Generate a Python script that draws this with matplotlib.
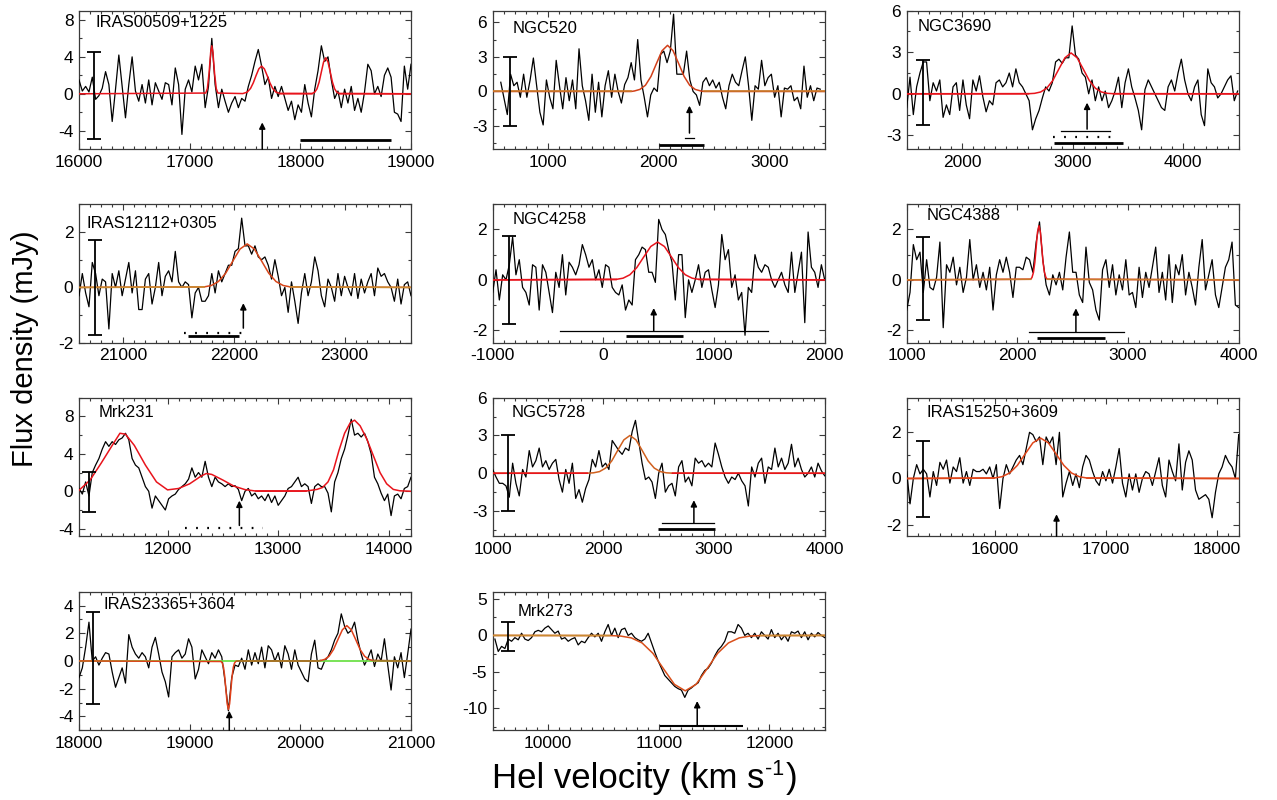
import numpy as np
import matplotlib
matplotlib.use('Agg')
import matplotlib.pyplot as plt
from matplotlib.ticker import MultipleLocator, AutoMinorLocator

plt.rcParams['font.family'] = ['Liberation Sans', 'DejaVu Sans']
plt.rcParams['axes.unicode_minus'] = False

# ---------------- data ----------------
names = ['IRAS00509+1225', 'NGC520', 'NGC3690', 'IRAS12112+0305', 'NGC4258',
         'NGC4388', 'Mrk231', 'NGC5728', 'IRAS15250+3609', 'IRAS23365+3604', 'Mrk273']

xlims = [(16000, 19000), (500, 3500), (1500, 4500), (20600, 23600), (-1000, 2000),
         (1000, 4000), (11200, 14200), (1000, 4000), (15200, 18200), (18000, 21000), (9500, 12500)]
ylims = [(-6, 9), (-5, 7), (-4, 6), (-2, 3), (-2.5, 3), (-2.5, 3), (-4.8, 10), (-5, 6),
         (-2.5, 3.5), (-5, 5), (-13, 6)]
ysteps = [4, 3, 3, 2, 2, 2, 4, 3, 2, 2, 5]

# velocity coverage of each spectrum (first, last channel)
vel_ranges = [(16000, 19000), (573, 3460), (1500, 4490), (20600, 23600), (-1000, 2000),
              (1000, 4000), (11200, 14200), (1000, 4000), (15200, 18200), (18000, 21000), (9520, 12500)]

flux_iras00509 = [1.5,0.3,0.8,0.2,1.8,-0.6,-0.2,0.6,2.4,1.0,
                  -3.0,0.5,4.2,0.8,-2.6,1.0,4.0,0.3,-0.8,1.0,
                  -1.0,1.5,-1.2,1.2,0.3,-0.6,1.2,1.0,-1.2,2.8,
                  1.0,-4.4,0.5,1.5,0.2,3.0,1.5,3.2,-1.5,0.8,
                  6.0,1.0,-1.5,0.5,-0.8,-2.0,-1.0,-0.3,-1.5,-0.5,
                  -0.8,0.8,2.0,3.5,4.8,3.0,1.0,1.8,-0.5,0.8,
                  -0.3,0.8,-0.5,-1.8,-0.8,-2.8,-1.2,-2.0,1.0,-1.0,
                  -2.5,0.5,2.5,5.2,3.5,4.0,1.5,-0.5,0.3,-1.5,
                  0.5,-1.0,0.8,-1.8,-0.5,-2.0,0.2,3.2,2.5,0.0,
                  0.8,-0.3,2.0,2.8,1.8,-2.0,-2.2,-3.0,3.0,0.5,3.2]
flux_ngc520 = [0.8,-0.6,-2.0,1.5,0.5,0.8,-0.5,1.5,-0.5,1.0,
               2.9,0.5,-1.8,-2.9,1.0,-0.5,-1.5,2.7,0.5,-1.5,
               1.2,-0.8,1.0,-1.5,3.7,0.5,-0.8,-2.5,1.5,-1.8,
               0.8,-2.2,0.5,1.8,-0.5,1.5,0.0,-1.0,0.6,1.2,
               2.5,1.0,4.5,1.0,-0.5,-2.2,-0.3,0.3,0.0,3.2,
               3.5,2.5,3.5,6.7,1.5,1.5,1.5,3.5,1.0,0.0,
               -0.3,-1.2,0.8,1.2,0.5,1.0,0.3,0.8,-0.5,-1.5,
               0.5,1.5,0.8,0.5,1.8,3.0,0.5,-2.5,0.5,0.2,
               2.7,0.5,1.2,1.5,-0.5,0.5,-2.2,0.3,0.2,0.5,
               -0.8,-0.5,-1.5,2.2,-0.5,0.5,-0.8,0.3,0.2]
flux_ngc3690 = [-1.0,1.2,-1.5,0.5,1.5,2.3,2.3,-0.5,0.8,0.2,
                1.0,-1.7,-0.8,-1.5,0.5,0.8,-1.2,1.0,-0.8,-1.8,
                1.0,0.2,1.3,-0.2,-1.3,-0.5,-0.8,0.8,1.0,0.5,
                0.8,1.5,0.5,1.8,0.8,0.5,0.0,-0.5,-2.6,-1.8,
                -1.2,-0.3,0.5,0.2,0.8,2.3,2.5,2.2,2.6,2.6,
                4.9,2.8,2.5,1.5,1.2,0.0,1.0,-0.5,0.5,-0.5,
                0.2,-1.0,-0.5,0.2,1.2,-1.0,0.8,1.8,0.5,-0.3,
                -1.2,-2.6,0.3,1.0,0.5,0.0,-0.5,-1.0,-1.2,0.5,
                1.0,0.2,1.5,2.5,1.0,0.0,-0.5,0.5,1.0,-1.5,
                -2.3,1.8,0.8,0.5,-0.3,0.0,0.5,1.0,1.3,-0.5,0.2]
flux_iras12112 = [-0.3,0.5,-0.2,-0.7,0.9,0.5,-0.3,0.3,0.2,-1.5,
                  0.5,0.0,0.6,-0.3,0.3,0.9,-0.2,0.6,-0.8,-0.8,
                  0.3,0.5,-0.6,0.0,0.9,-0.3,0.4,0.6,0.2,1.3,
                  0.2,0.0,0.2,0.1,-1.1,-0.2,0.0,-0.5,-0.5,-0.3,
                  0.5,-0.2,0.6,0.2,0.5,0.8,0.8,1.3,1.4,2.5,
                  1.5,1.5,1.2,1.5,1.1,1.0,1.1,0.8,0.3,1.0,
                  0.4,-0.3,0.0,-0.9,0.2,-0.5,-1.3,-0.2,0.5,-0.3,
                  0.2,1.1,0.6,-0.3,-0.7,0.3,0.0,-0.5,0.5,-0.3,
                  0.4,0.0,-0.3,0.5,-0.4,0.3,-0.2,0.2,0.5,-0.3,
                  0.7,0.4,0.5,0.2,0.0,-0.5,0.3,-0.6,0.1,0.2,-0.3]
flux_ngc4258 = [-0.5,0.4,-0.8,0.2,0.0,0.6,1.7,0.2,0.8,-0.3,
                -0.5,-1.0,0.6,0.5,-1.2,0.6,0.3,-0.5,-1.3,0.3,
                -0.3,1.0,-0.6,0.7,0.5,0.2,0.6,1.4,1.0,0.5,
                0.8,0.0,0.4,-0.3,0.6,0.5,-0.3,-0.5,-0.6,-0.2,
                -1.2,-0.8,-1.0,0.8,1.0,1.3,1.2,0.3,0.3,-0.1,
                2.4,2.0,1.8,1.2,0.7,-0.8,1.0,1.0,-1.5,0.0,
                -0.5,0.0,0.6,-0.3,0.3,0.4,-0.4,-1.1,-0.2,1.8,
                0.8,1.2,-0.3,0.2,-0.8,-0.5,-2.2,-0.3,-0.5,1.0,
                0.5,0.3,0.6,0.5,0.0,-0.3,0.0,0.3,-0.2,-0.5,
                1.1,-0.5,0.3,1.1,-1.7,1.9,0.5,0.3,-0.3,0.6,0.0]
flux_ngc4388 = [-1.2,-0.5,1.4,0.8,1.1,-0.5,0.8,-0.3,-0.4,0.1,
                1.5,-1.9,0.6,0.3,0.9,-0.2,0.5,-0.5,0.1,1.6,
                0.0,0.6,-0.3,0.3,-0.4,0.5,-1.2,0.2,0.8,0.3,
                0.9,0.3,-0.7,0.5,0.5,0.4,0.9,0.8,0.3,1.5,
                2.3,0.8,-0.2,-0.6,0.2,-0.2,0.3,-0.4,0.9,1.9,
                0.3,0.3,-0.6,-0.9,1.3,-0.1,-0.4,-1.2,-1.6,0.4,
                0.8,-0.3,0.6,-0.6,0.2,-0.4,0.8,-0.6,-0.5,-1.1,
                0.5,-0.7,0.3,-0.3,0.5,1.3,-0.5,0.3,-0.8,1.0,
                -0.9,0.6,0.2,1.0,-0.6,0.3,-0.3,-1.0,0.5,1.6,
                -0.4,0.2,0.8,-0.6,-1.1,-0.3,0.5,0.8,1.5,-1.0,-1.1]
flux_mrk231 = [0.3,-0.3,1.0,-0.5,2.0,2.8,3.5,4.5,5.3,4.8,
               5.3,5.0,5.5,5.7,6.2,5.5,3.5,2.8,2.5,1.5,
               0.5,0.0,-1.8,-0.5,-1.0,-1.5,-2.0,-0.8,-0.5,-0.3,
               0.2,0.5,0.8,1.3,2.5,1.5,2.0,1.5,3.2,1.5,
               0.5,1.5,1.0,0.8,0.5,0.8,0.5,0.6,0.2,-1.0,
               0.0,0.3,-0.5,-0.2,-0.8,-0.5,-1.0,-0.3,-1.2,-0.5,
               -1.5,-1.0,-0.5,0.3,0.5,1.0,1.5,0.5,0.8,0.5,
               -1.3,0.5,0.8,0.5,0.5,-0.2,-2.2,1.0,2.0,3.5,
               4.5,6.0,7.7,6.0,6.2,5.8,6.2,5.3,4.0,1.5,
               0.8,-0.2,-1.0,-0.3,-2.6,-0.5,-0.3,-0.8,0.3,0.5,1.5]
flux_ngc5728 = [0.3,-0.3,-0.8,-0.8,-1.0,-1.9,0.8,-0.8,-1.8,0.3,
                -0.3,1.8,0.5,1.0,2.0,0.5,1.0,0.3,0.8,1.1,
                -0.5,-1.5,0.3,-0.8,0.8,-2.0,-1.3,-2.3,-1.2,-0.5,
                1.1,0.5,1.8,0.5,0.8,0.3,2.6,2.2,1.8,1.5,
                2.0,1.8,3.3,4.2,2.5,0.8,-0.5,-0.3,-0.7,-2.0,
                0.0,0.8,-1.5,-1.0,-0.8,-1.8,0.5,1.0,-0.7,-0.3,
                -1.0,1.2,0.8,1.0,0.5,0.8,0.5,2.4,1.5,0.5,
                -0.3,-0.8,-0.3,-0.5,0.0,-0.6,-1.0,-2.6,0.5,-0.3,
                0.8,1.2,-0.8,0.5,0.3,2.0,0.5,1.2,0.3,0.8,
                2.3,0.5,1.2,0.3,-0.3,0.0,0.5,-0.3,0.8,0.2,-0.2]
flux_iras15250 = [0.3,-1.1,0.0,0.6,0.2,0.4,0.2,-0.8,0.3,-0.3,
                  0.7,0.4,0.8,-0.2,0.5,0.3,0.9,-0.2,0.3,-0.3,
                  0.4,0.3,0.3,0.4,0.2,0.5,0.0,0.6,-1.3,0.0,
                  0.6,0.2,0.5,0.8,1.0,0.6,1.3,2.0,1.9,1.6,
                  1.8,0.6,1.8,1.5,1.8,0.6,2.0,-0.8,-0.2,0.3,
                  -0.3,0.2,-0.4,0.5,1.0,0.8,0.3,-0.1,-0.3,0.3,
                  -0.1,0.4,-0.2,0.5,1.3,-0.2,-0.8,0.2,-0.5,0.2,
                  -0.6,0.0,0.3,0.2,-0.3,0.3,0.9,-0.3,-0.8,0.8,
                  0.3,-0.1,1.5,-0.5,0.7,1.2,0.8,-0.5,-0.9,-0.8,
                  -0.7,-0.9,-1.7,-0.6,0.2,0.5,1.0,0.7,0.5,0.0,1.9]
flux_iras23365 = [-1.2,-0.5,1.0,2.8,0.0,0.3,-0.3,0.2,0.6,0.5,
                  -0.8,-1.9,-1.2,-0.5,-1.6,1.9,1.0,0.5,0.2,0.6,
                  0.3,-0.5,1.0,1.7,0.5,-0.8,-1.5,-2.6,0.3,0.6,
                  0.8,0.2,0.5,1.6,1.0,-1.3,-0.6,0.8,0.3,-0.2,
                  0.6,0.2,0.8,0.3,-1.5,-3.6,-1.2,-0.3,-0.4,0.2,
                  -0.6,0.8,-0.3,0.6,-0.2,1.0,-0.5,1.1,0.8,0.0,
                  0.6,-0.5,1.1,0.5,-0.6,0.8,-0.3,-0.8,-1.3,-1.5,
                  0.5,1.5,-0.5,-0.6,0.0,0.3,0.8,1.5,2.0,3.4,
                  2.5,2.0,2.2,2.8,1.5,0.5,-0.3,0.2,0.8,-0.4,
                  0.5,0.0,1.6,-0.3,-2.1,0.3,-0.5,0.6,-1.2,0.5,2.3]
flux_mrk273 = [-0.5,-2.2,-1.5,-1.8,-0.5,-0.8,-0.3,-0.6,0.3,-0.5,
               -0.7,-0.3,0.5,0.7,0.5,1.0,1.3,0.8,0.3,0.6,
               -0.5,-0.3,-0.8,-0.5,-0.3,-1.3,-0.8,-1.0,-0.3,0.3,
               -0.2,0.3,-0.8,0.5,1.5,0.0,1.0,-0.3,0.8,1.0,
               0.0,0.3,-0.3,-0.6,-0.8,-0.5,0.3,-1.0,-2.3,-3.5,
               -4.5,-5.5,-6.0,-6.5,-7.0,-7.3,-7.5,-8.5,-7.5,-7.2,
               -6.8,-6.5,-5.5,-4.8,-4.5,-3.8,-2.8,-2.0,-1.5,-0.8,
               0.5,0.5,0.3,1.5,1.0,0.0,0.3,-0.3,0.3,-0.5,
               0.5,0.0,-0.5,0.8,-0.3,0.3,-0.6,0.0,-0.8,0.5,
               0.3,0.6,-0.3,0.5,-0.6,0.3,-0.2,0.4,0.0,-0.3]

# Gaussian-fit curves
fitx_iras00509 = [16000,17145,17160,17175,17190,17200,17210,17225,17240,17255,17480,17520,17550,17575,17600,
                  17625,17650,17675,17700,17725,17750,17780,17820,18105,18130,18150,18170,18190,18210,18230,
                  18250,18270,18290,18310,18330,18355,19000]
fity_iras00509 = [0,0.08,0.57,2.2,4.5,5.2,4.5,2.2,0.57,0.08,0.025,0.18,0.58,1.19,1.98,
                  2.7,3.0,2.7,1.98,1.19,0.58,0.18,0.025,0.02,0.17,0.53,1.27,2.37,3.44,3.9,
                  3.44,2.37,1.27,0.53,0.17,0.02,0]
fitx_ngc520 = [500,1750,1780,1830,1880,1930,1980,2030,2080,2130,2180,2230,2280,2330,2380,2410,3500]
fity_ngc520 = [0,0,0.044,0.18,0.54,1.30,2.43,3.53,4.0,3.53,2.43,1.30,0.54,0.18,0.044,0,0]
fitx_ngc3690 = [1500,2600,2655,2710,2765,2820,2875,2930,2985,3040,3095,3150,3205,3260,3315,3370,4500]
fity_ngc3690 = [0,0.006,0.033,0.13,0.40,0.96,1.79,2.60,2.95,2.60,1.79,0.96,0.40,0.13,0.033,0.006,0]
fitx_iras12112 = [20600,21730,21795,21860,21925,21990,22055,22120,22185,22250,22315,22380,22445,22510,23600]
fity_iras12112 = [0,0.017,0.069,0.212,0.51,0.952,1.385,1.57,1.385,0.952,0.51,0.212,0.069,0.017,0]
fitx_ngc4258 = [-1000,115,178,240,302,365,428,490,552,615,678,740,802,865,2000]
fity_ngc4258 = [0,0.017,0.066,0.203,0.487,0.91,1.324,1.5,1.324,0.91,0.487,0.203,0.066,0.017,0]
fitx_ngc4388 = [1000,2120,2132,2145,2158,2170,2182,2195,2208,2220,2232,2245,2258,2270,4000]
fity_ngc4388 = [0,0.024,0.094,0.291,0.70,1.304,1.897,2.15,1.897,1.304,0.70,0.291,0.094,0.024,0]
fitx_mrk231 = [11200,11300,11400,11500,11570,11620,11700,11800,11900,12000,12100,12200,12300,12350,12400,
               12500,12600,12700,12800,13250,13350,13400,13450,13500,13550,13600,13650,13690,13740,13800,
               13860,13920,13980,14040,14100,14200]
fity_mrk231 = [0.1,1.2,3.0,4.9,6.2,6.1,4.9,2.8,1.0,0.15,0.3,0.8,1.6,1.9,1.8,
               1.2,0.55,0.18,0.02,0.02,0.2,0.4,1.0,2.3,4.4,6.2,7.3,7.6,7.0,5.6,
               3.8,2.0,0.8,0.2,0.05,0.0]
fitx_ngc5728 = [1000,1855,1910,1965,2020,2075,2130,2185,2240,2295,2350,2405,2460,2515,2570,2625,4000]
fity_ngc5728 = [0,0.006,0.033,0.13,0.41,0.97,1.82,2.65,3.0,2.65,1.82,0.97,0.41,0.13,0.033,0.006,0]
fitx_iras15250 = [15200,15990,16060,16130,16200,16270,16340,16410,16480,16550,16620,16690,16760,16830,18200]
fity_iras15250 = [0,0.019,0.077,0.237,0.568,1.061,1.544,1.75,1.544,1.061,0.568,0.237,0.077,0.019,0]
fitx_iras23365 = [18000,19284,19295,19306,19317,19328,19339,19350,19361,19372,19383,19394,19405,19416,19430,
                  20160,20180,20220,20260,20300,20340,20380,20420,20460,20500,20540,20580,20620,20660,21000]
fity_iras23365 = [0,-0.039,-0.154,-0.47,-1.14,-2.12,-3.09,-3.5,-3.09,-2.12,-1.14,-0.47,-0.154,-0.039,0,
                  0,0.028,0.112,0.345,0.83,1.55,2.25,2.55,2.25,1.55,0.83,0.345,0.112,0.028,0]
fitx_mrk273 = [9500,10558,10655,10752,10850,10948,11045,11142,11240,11338,11435,11532,11630,11728,11825,11922,12500]
fity_mrk273 = [0,-0.017,-0.084,-0.334,-1.03,-2.46,-4.61,-6.71,-7.6,-6.71,-4.61,-2.46,-1.03,-0.334,-0.084,-0.017,0]

# rms error bars: (velocity, low, high)
errbars = [(16140, -4.9, 4.5), (660, -3.0, 3.0), (1645, -2.25, 2.43), (20745, -1.71, 1.7),
           (-855, -1.75, 1.75), (1144, -1.6, 1.7), (11293, -2.2, 2.1), (1142, -3.0, 3.0),
           (15344, -1.65, 1.62), (18130, -3.13, 3.57), (9642, -2.2, 1.9)]
# systemic-velocity arrows: (velocity, tip, base)
arrows = [(17656, -3.1, -6.0), (2278, -1.23, -3.6), (3130, -0.64, -2.55), (22085, -0.57, -1.47),
          (455, -1.12, -2.04), (2529, -1.13, -2.07), (12649, -1.0, -3.65), (2818, -2.14, -3.97),
          (16554, -1.55, -2.5), (19358, -3.6, -5.0), (11348, -9.0, -12.4)]
# velocity ranges of other tracers: (v0, v1, y, kind)
ranges = [
    [(18000, 18820, -5.0, 'thick')],
    [(2240, 2320, -4.0, 'thin'), (2000, 2410, -4.6, 'thick')],
    [(2895, 3336, -2.71, 'thin'), (2820, 3366, -3.14, 'dot'), (2835, 3450, -3.57, 'thick')],
    [(21549, 22100, -1.63, 'dot'), (21588, 22046, -1.77, 'thick')],
    [(-394, 1491, -2.04, 'thin'), (209, 724, -2.24, 'thick')],
    [(2107, 2962, -2.07, 'thin'), (2180, 2790, -2.29, 'thick')],
    [(12158, 12860, -3.94, 'dot')],
    [(2530, 3000, -3.97, 'thin'), (2494, 3006, -4.44, 'thick')],
    [],
    [],
    [(11015, 11758, -12.4, 'medium')],
]

fluxes = [flux_iras00509, flux_ngc520, flux_ngc3690, flux_iras12112, flux_ngc4258, flux_ngc4388,
          flux_mrk231, flux_ngc5728, flux_iras15250, flux_iras23365, flux_mrk273]
fitxs = [fitx_iras00509, fitx_ngc520, fitx_ngc3690, fitx_iras12112, fitx_ngc4258, fitx_ngc4388,
         fitx_mrk231, fitx_ngc5728, fitx_iras15250, fitx_iras23365, fitx_mrk273]
fitys = [fity_iras00509, fity_ngc520, fity_ngc3690, fity_iras12112, fity_ngc4258, fity_ngc4388,
         fity_mrk231, fity_ngc5728, fity_iras15250, fity_iras23365, fity_mrk273]

# ---------------- styling ----------------
RED = '#e8141c'
fit_colors = [(RED, RED), ('#d2401a', '#c97a2a'), (RED, RED), ('#d8461a', '#c98a30'), (RED, RED),
              (RED, '#c97a2a'), (RED, RED), ('#d0601e', RED), ('#e0461a', '#e0461a'),
              ('#e0401a', '#a07828'), ('#d84e1a', '#c98a30')]
green_base = [False]*9 + [True, False]
title_pos = [(0.05, 0.915), (0.06, 0.873), (0.032, 0.885), (0.023, 0.863), (0.06, 0.892),
             (0.06, 0.916), (0.058, 0.895), (0.058, 0.895), (0.06, 0.895), (0.073, 0.904), (0.075, 0.856)]

W, H = 1277, 800
col_left = [79, 492.7, 906.7]
row_top = [10.7, 204.3, 397.7, 591.7]
aw, ah = 332, 138.5
grid = [(0, 0), (0, 1), (0, 2), (1, 0), (1, 1), (1, 2), (2, 0), (2, 1), (2, 2), (3, 0), (3, 1)]

fig = plt.figure(figsize=(W/100, H/100), dpi=100)
FRAME = '#3a3a3a'

for k in range(11):
    r, c = grid[k]
    ax = fig.add_axes([col_left[c]/W, 1 - (row_top[r] + ah)/H, aw/W, ah/H])
    flux = np.array(fluxes[k])
    vel = np.linspace(vel_ranges[k][0], vel_ranges[k][1], len(flux))
    fx = np.array(fitxs[k], dtype=float)
    fy = np.array(fitys[k], dtype=float)
    peak_c, base_c = fit_colors[k]

    ax.plot(vel, flux, color='black', lw=0.9, zorder=3)
    if green_base[k]:
        ax.plot(xlims[k], [0, 0], color='#6ee04a', lw=1.3, zorder=4)
    ax.plot(fx, fy, color=peak_c, lw=1.1, zorder=5)
    base = np.where(np.abs(fy) < 0.03, fy, np.nan)
    ax.plot(fx, base, color=base_c, lw=1.2, zorder=6)

    ex, elo, ehi = errbars[k]
    ax.errorbar([ex], [(elo + ehi)/2], yerr=[[(ehi - elo)/2], [(ehi - elo)/2]], color='black',
                lw=1.3, capsize=5, capthick=1.3, zorder=7)

    axx, tip, bse = arrows[k]
    ax.annotate('', xy=(axx, tip), xytext=(axx, bse),
                arrowprops=dict(arrowstyle='-|>', color='black', lw=1.1, mutation_scale=9,
                                shrinkA=0, shrinkB=0), zorder=7, annotation_clip=False)

    for (v0, v1, yy, kind) in ranges[k]:
        if kind == 'thick':
            ax.plot([v0, v1], [yy, yy], color='black', lw=2.0, solid_capstyle='butt', zorder=7)
        elif kind == 'medium':
            ax.plot([v0, v1], [yy, yy], color='black', lw=1.5, solid_capstyle='butt', zorder=7)
        elif kind == 'thin':
            ax.plot([v0, v1], [yy, yy], color='black', lw=0.9, zorder=7)
        else:
            ax.plot([v0, v1], [yy, yy], color='black', lw=1.6, linestyle=(0, (0.8, 4.2)), zorder=7)

    ax.set_xlim(*xlims[k])
    ax.set_ylim(*ylims[k])
    ax.xaxis.set_major_locator(MultipleLocator(1000))
    ax.xaxis.set_minor_locator(MultipleLocator(100))
    ax.yaxis.set_major_locator(MultipleLocator(ysteps[k]))
    ax.yaxis.set_minor_locator(AutoMinorLocator(2))
    ax.tick_params(which='both', direction='in', top=True, right=True, color=FRAME, width=0.8,
                   labelsize=12.5, pad=4)
    ax.tick_params(which='major', length=4.5)
    ax.tick_params(which='minor', length=2.2)
    for sp in ax.spines.values():
        sp.set_color(FRAME)
        sp.set_linewidth(0.9)
    tx, ty = title_pos[k]
    ax.text(tx, ty, names[k], transform=ax.transAxes, fontsize=12, va='center', ha='left', zorder=8)

fig.text(25/W, 1 - 349/H, 'Flux density (mJy)', rotation=90, fontsize=21, va='center', ha='center')

# x label built from pieces so the superscript keeps a plain hyphen
renderer = fig.canvas.get_renderer()
base_y = 1 - 788/H
t1 = fig.text(492/W, base_y, 'Hel velocity (km s', fontsize=25, ha='left', va='baseline')
bb1 = t1.get_window_extent(renderer)
t2 = fig.text(bb1.x1/W + 1/W, base_y + 13/H, '-1', fontsize=15.5, ha='left', va='baseline')
bb2 = t2.get_window_extent(renderer)
fig.text(bb2.x1/W + 1/W, base_y, ')', fontsize=25, ha='left', va='baseline')

fig.savefig('out.png', dpi=100)
